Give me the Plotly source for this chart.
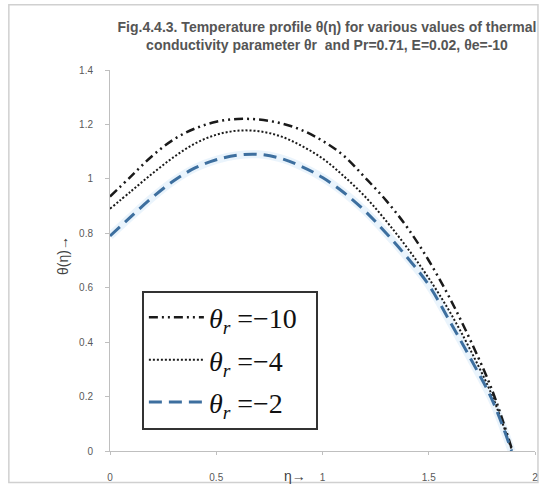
import plotly.graph_objects as go

# data
eta = [0.0, 0.1, 0.2, 0.3, 0.4, 0.5, 0.6, 0.7, 0.8, 0.9,
       1.0, 1.1, 1.2, 1.3, 1.4, 1.5, 1.6, 1.7, 1.8, 1.89]
theta_r_m10 = [0.935, 1.01, 1.085, 1.145, 1.185, 1.21, 1.22, 1.218, 1.205, 1.18,
               1.14, 1.085, 1.005, 0.92, 0.82, 0.70, 0.56, 0.40, 0.22, 0.01]
theta_r_m4 = [0.89, 0.955, 1.02, 1.08, 1.13, 1.162, 1.177, 1.175, 1.157, 1.122,
              1.075, 1.01, 0.935, 0.845, 0.745, 0.635, 0.51, 0.365, 0.20, 0.005]
theta_r_m2 = [0.79, 0.862, 0.932, 0.993, 1.04, 1.07, 1.087, 1.09, 1.076, 1.046,
              1.005, 0.95, 0.882, 0.80, 0.71, 0.61, 0.475, 0.335, 0.185, 0.0]
legend_names = ["<i>θ<sub>r</sub></i> =\u221210\u2002",
                "<i>θ<sub>r</sub></i> =\u22124",
                "<i>θ<sub>r</sub></i> =\u22122"]
x_ticks = [0, 0.5, 1, 1.5, 2]
x_labels = ["0", "0.5", "1", "1.5", "2"]
y_ticks = [0, 0.2, 0.4, 0.6, 0.8, 1.0, 1.2, 1.4]
y_labels = ["0", "0.2", "0.4", "0.6", "0.8", "1", "1.2", "1.4"]

fig = go.Figure()

# soft glow under the blue dashed line
fig.add_trace(go.Scatter(x=eta, y=theta_r_m2, mode="lines", showlegend=False,
                         hoverinfo="skip", line_shape="spline",
                         line=dict(color="rgba(170,212,245,0.25)", width=8)))

fig.add_trace(go.Scatter(x=eta, y=theta_r_m10, mode="lines", name=legend_names[0],
                         legendgroup="a", line_shape="spline",
                         line=dict(color="#1a1a1a", width=2.5,
                                   dash="9px,4px,2px,4px,2px,4px")))
fig.add_trace(go.Scatter(x=eta, y=theta_r_m4, mode="lines", name=legend_names[1],
                         legendgroup="b", line_shape="spline",
                         line=dict(color="#1a1a1a", width=2, dash="2px,2px")))
fig.add_trace(go.Scatter(x=eta, y=theta_r_m2, mode="lines", name=legend_names[2],
                         legendgroup="c", line_shape="spline",
                         line=dict(color="#3d6f9f", width=3, dash="13px,7px")))

tick_font = dict(family="Liberation Sans", size=10, color="#595959")

fig.update_layout(
    width=545, height=490,
    margin=dict(l=110, r=7, t=70, b=35),
    paper_bgcolor="white", plot_bgcolor="white",
    title=dict(
        text="Fig.4.4.3. Temperature profile θ(η) for various values of thermal<br>"
             "conductivity parameter θr  and Pr=0.71, E=0.02, θe=-10",
        x=0.60, xanchor="center", y=0.935, yanchor="middle",
        font=dict(family="Liberation Sans", size=14, color="#555555", weight="bold")),
    xaxis=dict(range=[0, 2], tickvals=x_ticks, ticktext=x_labels,
               showgrid=False, zeroline=False,
               showline=True, linecolor="#BFBFBF", linewidth=1,
               ticks="outside", ticklen=3, tickcolor="#BFBFBF",
               ticklabelstandoff=14, tickfont=tick_font),
    yaxis=dict(range=[0, 1.4], tickvals=y_ticks, ticktext=y_labels,
               showgrid=False, zeroline=False,
               showline=True, linecolor="#BFBFBF", linewidth=1,
               ticks="outside", ticklen=4, tickcolor="#BFBFBF",
               ticklabelstandoff=10, tickfont=tick_font),
    legend=dict(x=0.075, y=0.421, xanchor="left", yanchor="top",
                bgcolor="white", bordercolor="#333333", borderwidth=2,
                font=dict(family="Liberation Serif", size=28, color="#111111"),
                itemwidth=55, tracegroupgap=3),
    annotations=[
        dict(text="θ(η)→", xref="paper", yref="paper", x=-0.112, y=0.513,
             xanchor="center", yanchor="middle",
             textangle=-90, showarrow=False,
             font=dict(family="Liberation Sans", size=14, color="#404040")),
        dict(text="η→", xref="paper", yref="paper", x=0.435, y=-0.066,
             xanchor="center", yanchor="middle",
             showarrow=False,
             font=dict(family="Liberation Sans", size=14, color="#404040")),
    ],
    shapes=[
        dict(type="rect", xref="paper", yref="paper",
             x0=-0.238, x1=1.007, y0=-0.083, y1=1.171,
             line=dict(color="#D0D0D0", width=1.5), fillcolor="rgba(0,0,0,0)",
             layer="below"),
    ],
)

fig.write_html("out.html", config={"displayModeBar": False},
               post_script="document.body.style.margin='0';")
